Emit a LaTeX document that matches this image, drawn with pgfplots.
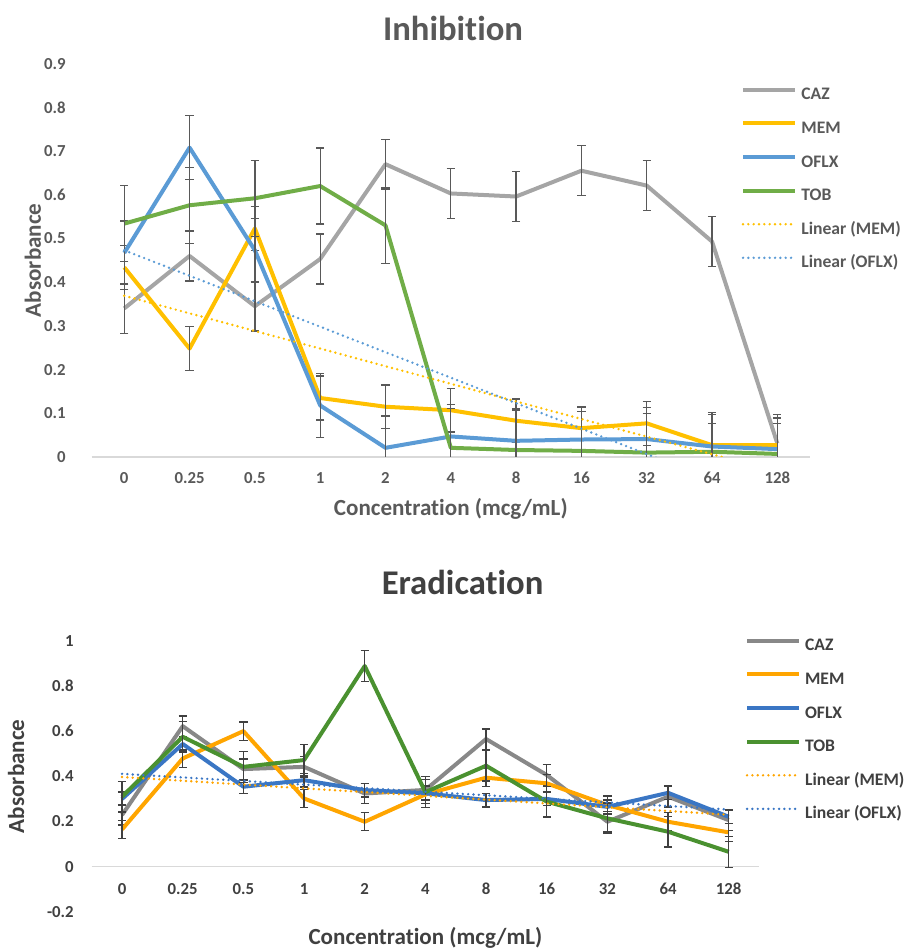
\documentclass[border=0pt]{standalone}
\usepackage{fontspec}
\setmainfont{Carlito}[Ligatures={NoCommon,NoContextual}]
\usepackage{pgfplots}
\usepackage{pgfplotstable}
\pgfplotsset{compat=1.18}

\definecolor{cazT}{HTML}{A5A5A5}
\definecolor{memT}{HTML}{FFC000}
\definecolor{oflxT}{HTML}{5B9BD5}
\definecolor{tobT}{HTML}{70AD47}
\definecolor{txtT}{HTML}{595959}
\definecolor{cazB}{HTML}{888888}
\definecolor{memB}{HTML}{FFA500}
\definecolor{oflxB}{HTML}{3A76C4}
\definecolor{tobB}{HTML}{4A9130}
\definecolor{txtB}{HTML}{404040}
\definecolor{axln}{HTML}{D9D9D9}

% Inhibition: mean absorbance and error per drug
\pgfplotstableread{
x caz cazE mem memE oflx oflxE tob tobE
0  0.340 0.057 0.434 0.050 0.467 0.073 0.534 0.087
1  0.460 0.057 0.248 0.050 0.708 0.073 0.576 0.087
2  0.345 0.057 0.523 0.050 0.473 0.073 0.592 0.087
3  0.453 0.057 0.135 0.050 0.118 0.073 0.620 0.087
4  0.670 0.057 0.115 0.050 0.021 0.073 0.530 0.087
5  0.603 0.057 0.107 0.050 0.047 0.073 0.021 0.090
6  0.596 0.057 0.083 0.050 0.037 0.073 0.016 0.090
7  0.655 0.057 0.066 0.050 0.040 0.073 0.014 0.090
8  0.621 0.057 0.077 0.050 0.041 0.073 0.010 0.090
9  0.493 0.057 0.027 0.050 0.024 0.073 0.012 0.090
10 0.031 0.057 0.027 0.050 0.018 0.073 0.007 0.090
}\inhib

% Eradication
\pgfplotstableread{
x caz cazE mem memE oflx oflxE tob tobE
0  0.229 0.045 0.165 0.040 0.300 0.030 0.310 0.068
1  0.622 0.045 0.479 0.040 0.543 0.030 0.575 0.068
2  0.432 0.045 0.600 0.040 0.354 0.030 0.442 0.068
3  0.442 0.045 0.302 0.040 0.383 0.030 0.472 0.068
4  0.324 0.045 0.199 0.040 0.339 0.030 0.888 0.068
5  0.340 0.045 0.320 0.040 0.325 0.030 0.330 0.068
6  0.565 0.045 0.394 0.040 0.295 0.030 0.447 0.068
7  0.406 0.045 0.369 0.040 0.300 0.030 0.288 0.068
8  0.199 0.045 0.273 0.040 0.265 0.030 0.214 0.068
9  0.310 0.045 0.199 0.040 0.327 0.030 0.155 0.068
10 0.206 0.045 0.152 0.040 0.221 0.030 0.066 0.068
}\erad

\pgfplotsset{
  excel/.style={
    scale only axis, anchor=south west,
    xmin=-0.5, xmax=10.5,
    xtick={0,...,10},
    xticklabels={0,0.25,0.5,1,2,4,8,16,32,64,128},
    axis line style={draw=none},
    major tick length=0pt,
    clip mode=individual,
    /pgf/number format/assume math mode=true,
    /pgf/number format/fixed, /pgf/number format/precision=1,
    ticklabel style={font=\fontsize{12.6}{14}\selectfont\bfseries},
    xticklabel style={anchor=base},
    yticklabel style={anchor=east, inner sep=0pt},
    label style={font=\fontsize{17.3}{20}\selectfont\bfseries},
    legend cell align=left,
    legend image code/.code={
      \path (0pt,0pt);
      \draw[##1] (0pt,4.3pt) -- (39pt,4.3pt);},
  },
  ser/.style={line width=3pt, line join=round, no marks,
    /pgfplots/error bars/y dir=both,
    /pgfplots/error bars/y explicit,
    /pgfplots/error bars/error bar style={line width=1pt, color=#1, solid},
    /pgfplots/error bars/error mark options={rotate=90, line width=1pt, color=#1, mark size=3.1pt, solid}},
  trend/.style={line width=2pt, line cap=round, dash pattern=on 0pt off 4pt, no marks},
}

\begin{document}
\begin{tikzpicture}
\useasboundingbox (0pt,0pt) rectangle (678pt,713.25pt);

\node[anchor=base, text=txtT, font=\fontsize{26}{30}\selectfont\bfseries]
  at (339.75pt,682.6pt) {Inhibition};
\node[anchor=base, text=txtB, font=\fontsize{26}{30}\selectfont\bfseries]
  at (346.9pt,267.5pt) {Eradication};

\begin{axis}[excel,
  at={(68.7pt,370.5pt)}, width=538.8pt, height=295pt,
  ymin=0, ymax=0.9,
  ytick={0,0.1,0.2,0.3,0.4,0.5,0.6,0.7,0.8,0.9},
  tick label style={text=txtT},
  xticklabel style={yshift=-19.8pt},
  yticklabel style={xshift=-19.2pt},
  xlabel={Concentration (mcg/mL)},
  ylabel={Absorbance},
  label style={text=txtT},
  xlabel style={at={(axis description cs:0.5,0)}, anchor=base, yshift=-43.9pt},
  ylabel style={at={(axis description cs:-0.0816,0.5)}, anchor=center},
  legend style={at={(axis description cs:0.9036,0.9408)}, anchor=north west,
    draw=none, fill=none, inner sep=0pt, row sep=12.7pt,
    font=\fontsize{13.2}{15}\selectfont\bfseries, text=txtT,
    nodes={inner sep=0pt, text height=9.5pt, text depth=3pt},
    /tikz/every odd column/.append style={column sep=3.3pt}},
]
\draw[axln, line width=1.1pt] (axis cs:-0.5,0) -- (axis cs:10.5,0);
\addplot[cazT, ser=txtT] table[x=x, y=caz, y error=cazE] {\inhib};
\addplot[memT, ser=txtT] table[x=x, y=mem, y error=memE] {\inhib};
\addplot[oflxT, ser=txtT] table[x=x, y=oflx, y error=oflxE] {\inhib};
\addplot[tobT, ser=txtT] table[x=x, y=tob, y error=tobE] {\inhib};
\addplot[memT, trend] coordinates {(0,0.369) (10,-0.034)};
\addplot[oflxT, trend] coordinates {(0,0.473) (10,-0.110)};
\legend{CAZ, MEM, OFLX, TOB, Linear (MEM), Linear (OFLX)}
\end{axis}

\begin{axis}[excel,
  at={(68.8pt,29.3pt)}, width=500.5pt, height=203.4pt,
  ymin=-0.2, ymax=1,
  ytick={-0.2,0,0.2,0.4,0.6,0.8,1},
  tick label style={text=txtB},
  xticklabel style={yshift=13.1pt},
  yticklabel style={xshift=-13.3pt},
  xlabel={Concentration (mcg/mL)},
  ylabel={Absorbance},
  label style={text=txtB},
  xlabel style={at={(axis description cs:0.5,0)}, anchor=base, yshift=-24.6pt},
  ylabel style={at={(axis description cs:-0.1134,0.5)}, anchor=center},
  legend style={at={(axis description cs:0.9786,1.010)}, anchor=north west,
    draw=none, fill=none, inner sep=0pt, row sep=12.7pt,
    font=\fontsize{13.2}{15}\selectfont\bfseries, text=txtB,
    nodes={inner sep=0pt, text height=9.5pt, text depth=3pt},
    /tikz/every odd column/.append style={column sep=3pt}},
]
\draw[axln, line width=1.1pt] (axis cs:-0.5,0) -- (axis cs:10.5,0);
\addplot[cazB, ser=txtB] table[x=x, y=caz, y error=cazE] {\erad};
\addplot[memB, ser=txtB] table[x=x, y=mem, y error=memE] {\erad};
\addplot[oflxB, ser=txtB] table[x=x, y=oflx, y error=oflxE] {\erad};
\addplot[tobB, ser=txtB] table[x=x, y=tob, y error=tobE] {\erad};
\addplot[memB, trend] coordinates {(0,0.397) (10,0.230)};
\addplot[oflxB, trend] coordinates {(0,0.411) (10,0.253)};
\legend{CAZ, MEM, OFLX, TOB, Linear (MEM), Linear (OFLX)}
\end{axis}
\end{tikzpicture}
\end{document}
